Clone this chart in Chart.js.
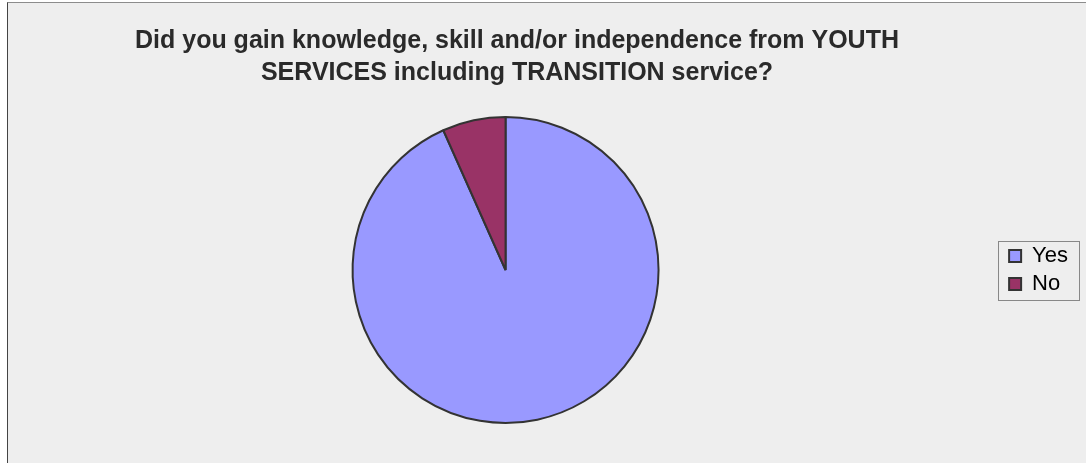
<!DOCTYPE html>
<html>
<head>
<meta charset="utf-8">
<script src="https://cdn.jsdelivr.net/npm/chart.js@4"></script>
<style>
  html, body { margin: 0; padding: 0; background: #fff; }
  #frame {
    position: absolute; left: 7px; top: 2px;
    width: 1079px; height: 461px;
    border-top: 1px solid #8c8c8c; border-left: 1px solid #444;
    background: #eeeeee;
  }
  #chart { display: block; }
</style>
</head>
<body>
<div id="frame"><canvas id="chart" width="1078" height="460"></canvas></div>
<script>
// survey answers
const answers = ['Yes', 'No'];
const counts = [14, 1];
const sliceColors = ['#9999ff', '#993366'];
const titleLines = [
  'Did you gain knowledge, skill and/or independence from YOUTH',
  'SERVICES including TRANSITION service?'
];

// title drawn by hand so it can sit a bit right of the pie centre
const titlePlugin = {
  id: 'twoLineTitle',
  afterDraw(chart) {
    const ctx = chart.ctx;
    ctx.save();
    ctx.font = 'bold 25px "Liberation Sans", Arial, sans-serif';
    ctx.fillStyle = '#2a2a2a';
    ctx.textAlign = 'center';
    ctx.textBaseline = 'alphabetic';
    titleLines.forEach((line, i) => ctx.fillText(line, 509, 45 + i * 32));
    ctx.restore();
  }
};

// thin box round the legend, like the spreadsheet one
const legendBox = {
  id: 'legendBox',
  afterDraw(chart) {
    const lg = chart.legend;
    const hb = lg.legendHitBoxes;
    if (!hb || !hb.length) return;
    const last = hb[hb.length - 1];
    const x1 = Math.round(lg.left - 5) + 0.5;
    const x2 = Math.round(lg.right + 1) + 0.5;
    const y1 = Math.round(hb[0].top - 4) + 0.5;
    const y2 = Math.round(last.top + last.height + 5) + 0.5;
    const ctx = chart.ctx;
    ctx.save();
    ctx.strokeStyle = '#888';
    ctx.lineWidth = 1;
    ctx.strokeRect(x1, y1, x2 - x1, y2 - y1);
    ctx.restore();
  }
};

new Chart(document.getElementById('chart'), {
  type: 'pie',
  data: {
    labels: answers,
    datasets: [{
      data: counts,
      backgroundColor: sliceColors,
      borderColor: '#333333',
      borderWidth: 2
    }]
  },
  options: {
    responsive: false,
    devicePixelRatio: 1,
    animation: false,
    layout: { padding: { top: 113, bottom: 39, left: 0, right: 8 } },
    plugins: {
      title: { display: false },
      tooltip: { enabled: false },
      legend: {
        display: true,
        position: 'right',
        labels: {
          boxWidth: 12,
          boxHeight: 12,
          padding: 6,
          color: '#000',
          font: { family: '"Liberation Sans", Arial, sans-serif', size: 22 }
        }
      }
    }
  },
  plugins: [titlePlugin, legendBox]
});
</script>
</body>
</html>
